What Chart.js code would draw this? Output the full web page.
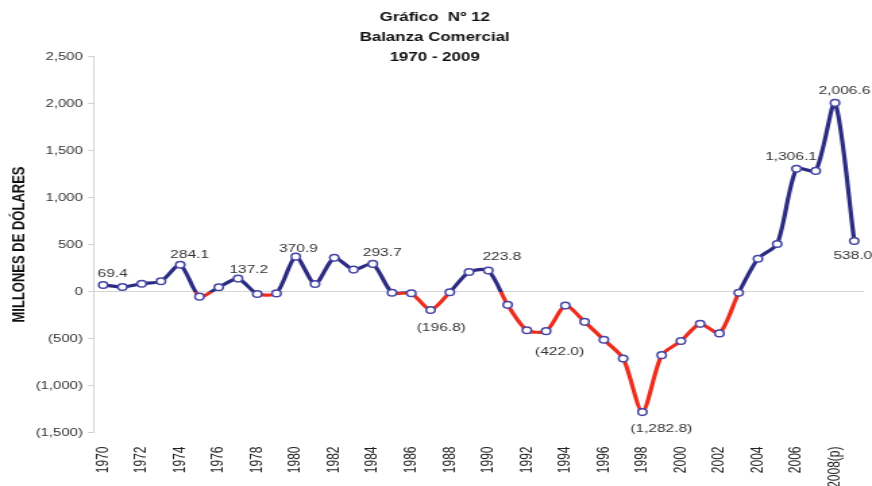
<!DOCTYPE html>
<html>
<head>
<meta charset="utf-8">
<script src="https://cdn.jsdelivr.net/npm/chart.js@4/dist/chart.umd.min.js"></script>
<style>
  html, body { margin: 0; padding: 0; background: #ffffff; overflow: hidden; }
  #wrap { width: 646px; height: 486px; transform: scaleX(1.3498); transform-origin: 0 0; }
</style>
</head>
<body>
<div id="wrap"><canvas id="c" width="646" height="486" style="width:646px;height:486px;display:block"></canvas></div>
<script>
// ---- data ----
const years = ['1970','1971','1972','1973','1974','1975','1976','1977','1978','1979',
               '1980','1981','1982','1983','1984','1985','1986','1987','1988','1989',
               '1990','1991','1992','1993','1994','1995','1996','1997','1998','1999',
               '2000','2001','2002','2003','2004','2005','2006','2007','2008(p)','2009'];
const balance = [69.4, 48, 83, 109, 284.1, -55, 45, 137.2, -27, -20,
                 370.9, 79, 359, 233, 293.7, -13, -19, -196.8, -8, 208,
                 223.8, -142, -412, -422.0, -150, -323, -514, -712, -1282.8, -677,
                 -527, -344, -446, -13, 349, 506, 1306.1, 1283, 2006.6, 538.0];
const labelledYears = ['1970','1974','1977','1980','1984','1987','1990','1993','1998','2006','2008(p)','2009'];
const titleLines = ['Gráfico  Nº 12', 'Balanza Comercial', '1970 - 2009'];
const yAxisTitle = 'MILLONES DE DÓLARES';

// ---- styling / placement ----
const NAVY = '#2b2b82';
const RED = '#ec2c1c';
const labelOffsets = {
  '1970': [7, -11], '1974': [7, -10], '1977': [8, -9], '1980': [2, -8],
  '1984': [7, -11], '1987': [8, 18], '1990': [10, -14], '1993': [10, 21],
  '1998': [14, 17], '2006': [-4, -12], '2008(p)': [7, -12], '2009': [-1, 15]
};

function fmt(v) {
  const s = Math.abs(v).toLocaleString('en-US', {minimumFractionDigits: 0, maximumFractionDigits: 1});
  return v < 0 ? '(' + s + ')' : s;
}
function fmt1(v) {
  const s = Math.abs(v).toLocaleString('en-US', {minimumFractionDigits: 1, maximumFractionDigits: 1});
  return v < 0 ? '(' + s + ')' : s;
}

const titlePlugin = {
  id: 'manualTitle',
  afterDraw(chart) {
    const ctx = chart.ctx;
    ctx.save();
    ctx.fillStyle = '#111';
    ctx.textAlign = 'center';
    ctx.textBaseline = 'middle';
    ctx.font = 'bold 12.5px "Liberation Sans", Arial, sans-serif';
    const cx = chart.width / 2 - 1;
    titleLines.forEach((t, i) => ctx.fillText(t, cx, 18 + i * 20));
    ctx.restore();
  }
};

const dataLabelPlugin = {
  id: 'pointLabels',
  afterDatasetsDraw(chart) {
    const ctx = chart.ctx;
    const meta = chart.getDatasetMeta(0);
    ctx.save();
    ctx.fillStyle = '#333';
    ctx.textAlign = 'center';
    ctx.textBaseline = 'middle';
    ctx.font = '11.5px "Liberation Sans", Arial, sans-serif';
    labelledYears.forEach(y => {
      const i = years.indexOf(y);
      const el = meta.data[i];
      const off = labelOffsets[y] || [0, -10];
      ctx.fillText(fmt1(balance[i]), el.x + off[0], el.y + off[1]);
    });
    ctx.restore();
  }
};

function zeroGradient(context) {
  const chart = context.chart;
  const area = chart.chartArea;
  if (!area) return NAVY;
  const y0 = chart.scales.y.getPixelForValue(0);
  const g = chart.ctx.createLinearGradient(0, area.top, 0, area.bottom);
  const stop = Math.min(1, Math.max(0, (y0 - area.top) / (area.bottom - area.top)));
  g.addColorStop(0, NAVY);
  g.addColorStop(stop, NAVY);
  g.addColorStop(stop, RED);
  g.addColorStop(1, RED);
  return g;
}

new Chart(document.getElementById('c'), {
  type: 'line',
  data: {
    labels: years,
    datasets: [{
      data: balance,
      borderColor: zeroGradient,
      borderWidth: 3.2,
      tension: 0.25,
      pointRadius: 3.3,
      pointBorderWidth: 1.5,
      pointBorderColor: '#4545a5',
      pointBackgroundColor: '#ffffff',
      fill: false
    }]
  },
  options: {
    responsive: false,
    devicePixelRatio: 1,
    animation: false,
    layout: { padding: { top: 56.5, right: 6, bottom: 0, left: 0 } },
    plugins: {
      legend: { display: false },
      title: { display: false },
      tooltip: { enabled: false }
    },
    scales: {
      x: {
        type: 'category',
        offset: true,
        afterFit(scale) { scale.height = 53.5; scale.paddingLeft = 0; scale.paddingRight = 0; },
        grid: { display: false },
        border: { display: false },
        ticks: {
          autoSkip: false,
          minRotation: 90,
          maxRotation: 90,
          padding: 6,
          color: '#222',
          font: { family: '"Liberation Sans", Arial, sans-serif', size: 12 },
          callback(v, i) { return i % 2 === 0 ? years[i] : ''; }
        }
      },
      y: {
        min: -1500,
        max: 2500,
        afterFit(scale) { scale.width = 69.3; },
        border: { display: true, color: '#d4d4d4', width: 1 },
        grid: {
          drawOnChartArea: true,
          drawTicks: true,
          tickLength: 4,
          tickColor: '#cfcfcf',
          color(ctx) { return ctx.tick && ctx.tick.value === 0 ? '#d6d6d6' : 'rgba(0,0,0,0)'; }
        },
        ticks: {
          stepSize: 500,
          padding: 4,
          color: '#333',
          font: { family: '"Liberation Sans", Arial, sans-serif', size: 11 },
          callback(v) { return fmt(v); }
        },
        title: {
          display: true,
          text: yAxisTitle,
          color: '#111',
          padding: { top: 6.5, bottom: 0 },
          font: { family: '"Liberation Sans", Arial, sans-serif', size: 13, weight: 'bold' }
        }
      }
    }
  },
  plugins: [titlePlugin, dataLabelPlugin]
});
</script>
</body>
</html>
